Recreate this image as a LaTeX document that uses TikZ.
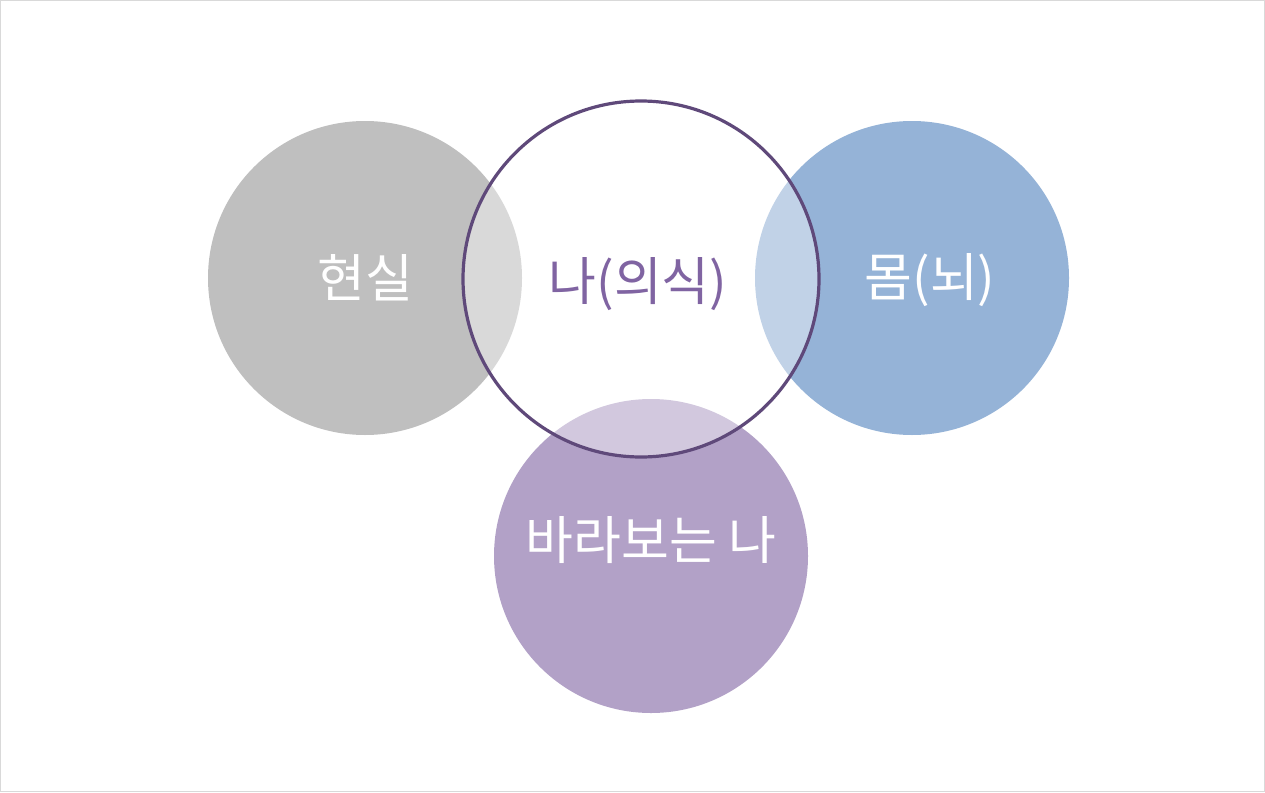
\documentclass[tikz,border=0pt]{standalone}
\usepackage{fontspec}
\setmainfont{Noto Sans CJK KR}
\usetikzlibrary{positioning}
\usepackage{xcolor}
\definecolor{reality}{HTML}{BFBFBF}
\definecolor{body}{HTML}{95B3D7}
\definecolor{watcher}{HTML}{B2A1C7}
\definecolor{selfline}{HTML}{5F497A}
\definecolor{selftext}{HTML}{8064A2}
\definecolor{frame}{HTML}{D9D9D9}

\begin{document}
\begin{tikzpicture}[x=1pt,y=-1pt,
  disc/.style={circle,minimum size=314pt,inner sep=0pt,draw=none},
  word/.style={font=\fontsize{52}{58}\selectfont,text=white,inner sep=0pt}]
  % page and frame
  \useasboundingbox (0,0) rectangle (1265,792);
  \draw[frame,line width=1pt] (0.5,0.5) rectangle (1264.5,791.5);

  % outer circles
  \node[disc,fill=reality] (reality) at (365,278) {};
  \node[disc,fill=body] (body) at (912,278) {};
  \node[disc,fill=watcher] (watcher) at (651,556) {};

  % self circle
  \node[circle,minimum size=356pt,inner sep=0pt,fill=white,fill opacity=0.42,
        draw=selfline,draw opacity=1,line width=3.2pt] (self) at (641,279) {};

  % labels
  \node[word] (realitytxt) at (reality.center) {현실};
  \node[word] (bodytxt) at ([xshift=18pt,yshift=-2pt]body.center) {몸(뇌)};
  \node[word] (watchertxt) at ([yshift=16pt]watcher.center) {바라보는 나};
  \node[word,text=selftext] (selftxt) at ([xshift=-3pt,yshift=-5pt]self.center) {나(의식)};
\end{tikzpicture}
\end{document}
